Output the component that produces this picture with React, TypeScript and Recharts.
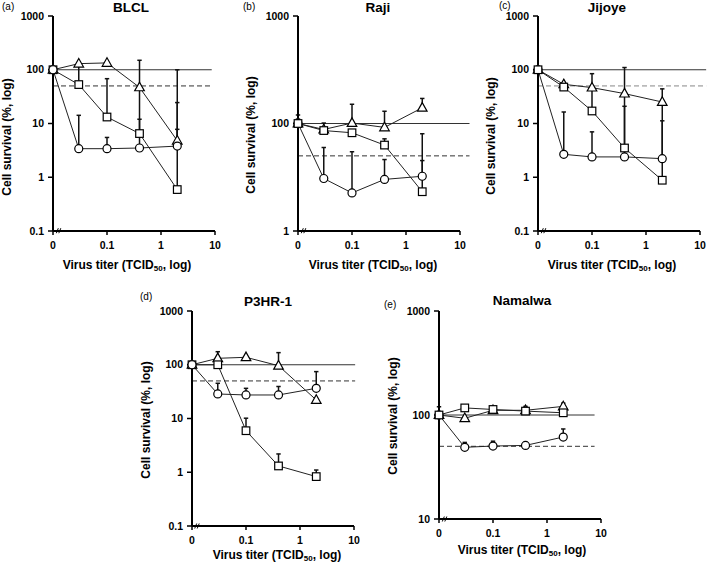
import React from 'react'
import { LineChart, Line, XAxis, YAxis, ErrorBar, ReferenceLine } from 'recharts'

const FONT = '"Liberation Sans", Arial, Helvetica, sans-serif'

// virus titers (TCID50); 0 sits left of the axis break
const titers = [0, 0.03, 0.1, 0.4, 2]
const X_ZERO = 0.01
const xTicks = [0.01, 0.1, 1, 10]
const xTickLabels = ['0', '0.1', '1', '10']

// (a) BLCL
const blclTri = [100, 130, 134, 47, 4.8]
const blclTriErr = [0, 0, 0, 103, 95]
const blclSq = [100, 53, 13.2, 6.5, 0.59]
const blclSqErr = [0, 70, 55, 5.5, 7.2]
const blclCi = [100, 3.4, 3.4, 3.5, 3.8]
const blclCiErr = [0, 10.8, 2.1, 41, 20.7]

// (b) Raji
const rajiTri = [100, 88, 101, 92, 140]
const rajiTriErr = [20, 13, 50, 38, 31]
const rajiSq = [100, 86, 82, 63, 23.2]
const rajiSqErr = [0, 0, 0, 9, 22]
const rajiCi = [100, 30.8, 22.6, 30.2, 32.3]
const rajiCiErr = [10, 29, 32, 16, 48]

// (c) Jijoye
const jijTri = [100, 53.6, 46.5, 36, 25.1]
const jijTriErr = [0, 0, 38, 74, 19]
const jijSq = [100, 47.6, 17.1, 3.5, 0.88]
const jijSqErr = [0, 0, 28, 17.4, 21]
const jijCi = [100, 2.67, 2.39, 2.39, 2.22]
const jijCiErr = [0, 13.7, 4.6, 33, 9]

// (d) P3HR-1
const p3Tri = [100, 131.8, 137.6, 96, 22.1]
const p3TriErr = [0, 43, 0, 72, 0]
const p3Sq = [100, 100, 5.93, 1.31, 0.83]
const p3SqErr = [0, 0, 4.2, 0.88, 0.27]
const p3Ci = [100, 28.6, 27.4, 27.4, 36.5]
const p3CiErr = [0, 16.6, 9, 12, 38]

// (e) Namalwa
const namTri = [100, 93, 111, 111, 121]
const namTriErr = [20, 0, 0, 10, 9]
const namSq = [100, 117, 113, 109, 105]
const namSqErr = [0, 0, 0, 0, 0]
const namCi = [100, 48.9, 50.3, 51, 61.4]
const namCiErr = [0, 5.6, 5.7, 0, 12]

const wideTicks = [0.1, 1, 10, 100, 1000]
const narrowTicks = [10, 100, 1000]

function buildRows(tri: number[], triErr: number[], sq: number[], sqErr: number[], ci: number[], ciErr: number[]) {
  return titers.map((t, i) => ({
    x: t === 0 ? X_ZERO : t,
    tri: tri[i],
    triErr: [0, triErr[i]],
    sq: sq[i],
    sqErr: [0, sqErr[i]],
    ci: ci[i],
    ciErr: [0, ciErr[i]],
  }))
}

const PW = 162

const panels = [
  {
    key: 'a', letter: '(a)', title: 'BLCL', left: 53.3, top: 15.7, h: 215,
    rows: buildRows(blclTri, blclTriErr, blclSq, blclSqErr, blclCi, blclCiErr),
    yDomain: [0.1, 1000], yTicks: wideTicks, yLabels: ['0.1', '1', '10', '100', '1000'],
    refEnd: 8.7, dashColor: '#333', order: ['tri', 'sq', 'ci'],
    letterX: 2, letterY: 6, titleX: 131, titleY: 7.5, yLabX: 7, yLabY: 137, xLabX: 127, xLabY: 265,
  },
  {
    key: 'b', letter: '(b)', title: 'Raji', left: 298.3, top: 15.7, h: 215,
    rows: buildRows(rajiTri, rajiTriErr, rajiSq, rajiSqErr, rajiCi, rajiCiErr),
    yDomain: [10, 1000], yTicks: narrowTicks, yLabels: ['1', '100', '1000'],
    refEnd: 15, dashColor: '#333', order: ['tri', 'ci', 'sq'],
    letterX: 243, letterY: 6, titleX: 378, titleY: 7.5, yLabX: 251, yLabY: 135, xLabX: 373, xLabY: 265,
  },
  {
    key: 'c', letter: '(c)', title: 'Jijoye', left: 538.3, top: 15.7, h: 215,
    rows: buildRows(jijTri, jijTriErr, jijSq, jijSqErr, jijCi, jijCiErr),
    yDomain: [0.1, 1000], yTicks: wideTicks, yLabels: ['0.1', '1', '10', '100', '1000'],
    refEnd: 13, dashColor: '#888', order: ['tri', 'ci', 'sq'],
    letterX: 499, letterY: 5, titleX: 607, titleY: 7.5, yLabX: 491, yLabY: 136, xLabX: 612, xLabY: 265,
  },
  {
    key: 'd', letter: '(d)', title: 'P3HR-1', left: 191.7, top: 311, h: 215,
    rows: buildRows(p3Tri, p3TriErr, p3Sq, p3SqErr, p3Ci, p3CiErr),
    yDomain: [0.1, 1000], yTicks: wideTicks, yLabels: ['0.1', '1', '10', '100', '1000'],
    refEnd: 10.5, dashColor: '#333', order: ['tri', 'sq', 'ci'],
    letterX: 140, letterY: 296, titleX: 268, titleY: 301.5, yLabX: 146, yLabY: 420, xLabX: 277, xLabY: 555,
  },
  {
    key: 'e', letter: '(e)', title: 'Namalwa', left: 439.3, top: 311, h: 208,
    rows: buildRows(namTri, namTriErr, namSq, namSqErr, namCi, namCiErr),
    yDomain: [10, 1000], yTicks: narrowTicks, yLabels: ['10', '100', '1000'],
    refEnd: 7.6, dashColor: '#333', order: ['tri', 'ci', 'sq'],
    letterX: 384, letterY: 304, titleX: 522, titleY: 300.5, yLabX: 393, yLabY: 416, xLabX: 522, xLabY: 550,
  },
]

const circleDot = (p: any) => (
  <circle key={`c-${p.index}`} cx={p.cx} cy={p.cy} r={4} fill="#fff" stroke="#000" strokeWidth={1.2} />
)
const squareDot = (p: any) => (
  <rect key={`s-${p.index}`} x={p.cx - 3.8} y={p.cy - 3.8} width={7.6} height={7.6} fill="#fff" stroke="#000" strokeWidth={1.2} />
)
const triangleDot = (p: any) => (
  <polygon
    key={`t-${p.index}`}
    points={`${p.cx},${p.cy - 5.2} ${p.cx + 4.8},${p.cy + 3.4} ${p.cx - 4.8},${p.cy + 3.4}`}
    fill="#fff"
    stroke="#000"
    strokeWidth={1.2}
  />
)

const seriesDefs: Record<string, { dot: any; err: string }> = {
  tri: { dot: triangleDot, err: 'triErr' },
  sq: { dot: squareDot, err: 'sqErr' },
  ci: { dot: circleDot, err: 'ciErr' },
}

const tickStyle = { fill: '#000', fontSize: 10.5, fontWeight: 'bold', fontFamily: FONT }

function Panel({ p }: { p: (typeof panels)[number] }) {
  const padL = 60
  const padT = 20
  const padR = 30
  const padB = 40
  return (
    <div style={{ position: 'absolute', left: p.left - padL, top: p.top - padT }}>
      <LineChart
        width={padL + PW + padR}
        height={padT + p.h + padB}
        data={p.rows}
        margin={{ top: padT, right: padR, left: 0, bottom: 0 }}
      >
        <XAxis
          dataKey="x"
          type="number"
          scale="log"
          domain={[X_ZERO, 10]}
          ticks={xTicks}
          tickFormatter={(v: number) => xTickLabels[xTicks.indexOf(v)] ?? String(v)}
          height={padB}
          axisLine={{ stroke: '#000', strokeWidth: 2 }}
          tickLine={{ stroke: '#000', strokeWidth: 1.5 }}
          tickSize={4}
          tickMargin={7}
          tick={tickStyle}
        />
        <YAxis
          type="number"
          scale="log"
          domain={p.yDomain}
          ticks={p.yTicks}
          tickFormatter={(v: number) => p.yLabels[p.yTicks.indexOf(v)] ?? String(v)}
          width={padL}
          axisLine={{ stroke: '#000', strokeWidth: 2 }}
          tickLine={{ stroke: '#000', strokeWidth: 1.5 }}
          tickSize={5}
          tickMargin={4}
          tick={tickStyle}
        />
        <ReferenceLine
          segment={[{ x: X_ZERO, y: 100 }, { x: p.refEnd, y: 100 }]}
          stroke="#333"
          strokeWidth={1}
          ifOverflow="visible"
        />
        <ReferenceLine
          segment={[{ x: X_ZERO, y: 50 }, { x: p.refEnd, y: 50 }]}
          stroke={p.dashColor}
          strokeWidth={1}
          strokeDasharray="5 3"
          ifOverflow="visible"
        />
        {p.order.map((k) => (
          <Line
            key={k}
            dataKey={k}
            stroke="#222"
            strokeWidth={1}
            dot={seriesDefs[k].dot}
            activeDot={false}
            isAnimationActive={false}
          >
            <ErrorBar dataKey={seriesDefs[k].err} direction="y" width={2.2} stroke="#111" strokeWidth={1.5} />
          </Line>
        ))}
      </LineChart>
    </div>
  )
}

function Labels() {
  return (
    <svg width={707} height={567} style={{ position: 'absolute', left: 0, top: 0, pointerEvents: 'none' }} fontFamily={FONT}>
      {panels.map((p) => {
        const bottom = p.top + p.h
        return (
          <g key={p.key}>
            <text x={p.letterX} y={p.letterY} fontSize={10} dominantBaseline="central">{p.letter}</text>
            <text x={p.titleX} y={p.titleY} fontSize={13.5} fontWeight="bold" textAnchor="middle" dominantBaseline="central">
              {p.title}
            </text>
            <text
              transform={`translate(${p.yLabX},${p.yLabY}) rotate(-90)`}
              fontSize={12}
              fontWeight="bold"
              textAnchor="middle"
              dominantBaseline="central"
            >
              Cell survival (%, log)
            </text>
            <text x={p.xLabX} y={p.xLabY} fontSize={12} fontWeight="bold" textAnchor="middle" dominantBaseline="central">
              Virus titer (TCID<tspan fontSize={8} dy={3}>50</tspan>
              <tspan dy={-3}>, log)</tspan>
            </text>
            {/* axis break */}
            <line x1={p.left + 3} y1={bottom + 2.5} x2={p.left + 5} y2={bottom - 2.5} stroke="#000" strokeWidth={1} />
            <line x1={p.left + 5.5} y1={bottom + 2.5} x2={p.left + 7.5} y2={bottom - 2.5} stroke="#000" strokeWidth={1} />
          </g>
        )
      })}
    </svg>
  )
}

export default function App() {
  return (
    <div style={{ position: 'absolute', left: 0, top: 0, width: 707, height: 567, overflow: 'hidden', background: '#fff' }}>
      {panels.map((p) => (
        <Panel key={p.key} p={p} />
      ))}
      <Labels />
    </div>
  )
}
